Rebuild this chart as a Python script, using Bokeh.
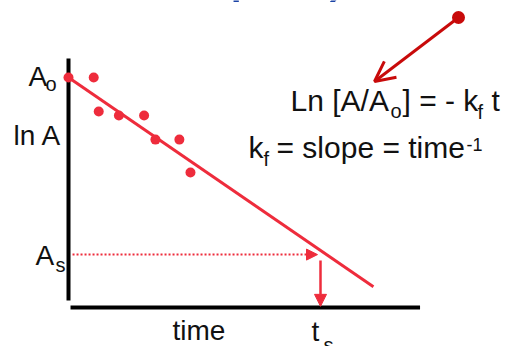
from bokeh.plotting import figure
from bokeh.models import Range1d, Arrow, NormalHead, OpenHead
from bokeh.core.properties import value
from bokeh.embed import file_html
from bokeh.resources import INLINE

# ---------------- data ----------------
obs_time = [0.0, 1.0, 1.2, 2.0, 3.0, 3.45, 4.4, 4.84]
obs_lnA = [10.0, 10.0, 8.52, 8.35, 8.35, 7.30, 7.30, 5.87]
fit_time = [0.0, 12.1]
fit_lnA = [10.0, 0.9]
lnA_o = 10.0          # A_o level
lnA_s = 2.3           # A_s level
t_s = 10.0            # time at which A_s is reached
time_axis = [0.08, 13.95]
lnA_axis = [0.3, 10.83]

# ---------------- layout constants ----------------
PX_T = 25.2   # pixels per time unit
PX_Y = 23.0   # pixels per lnA unit
W, H = 508, 346
X0, Y0 = 68, 307   # pixel position of the origin
BASE_FIX = 0.43    # baseline correction (fraction of font size)

FONT = value("Liberation Sans")
RED = "#ee2c3c"
DARK = "#c80a0a"
BLUE = "#1c44a6"
INK = "#111111"


def tx(px):
    return (px - X0) / PX_T


def ly(py):
    return (Y0 - py) / PX_Y


p = figure(width=W, height=H, output_backend="svg", toolbar_location=None,
           x_range=Range1d(tx(0), tx(W)), y_range=Range1d(ly(H), ly(0)),
           x_axis_location=None, y_axis_location=None, min_border=0,
           outline_line_color=None, background_fill_color="white",
           border_fill_color="white")
p.xgrid.visible = False
p.ygrid.visible = False

# axes lines
p.line(x=[0, 0], y=lnA_axis, line_color="black", line_width=4)
p.line(x=time_axis, y=[0, 0], line_color="black", line_width=4)

# fit line and observations
p.line(x=fit_time, y=fit_lnA, line_color=RED, line_width=3)
p.scatter(x=obs_time, y=obs_lnA, size=10, fill_color=RED, line_color=None)

# dotted arrow from A_s to the fit line, then down to t_s
p.add_layout(Arrow(end=NormalHead(size=11, fill_color=RED, line_color=RED, line_width=1),
                   x_start=0.16, y_start=lnA_s, x_end=t_s - 3 / PX_T, y_end=lnA_s,
                   line_color=RED, line_width=2, line_dash="2 2"))
p.add_layout(Arrow(end=NormalHead(size=12, fill_color=RED, line_color=RED, line_width=1),
                   x_start=t_s, y_start=lnA_s - 6 / PX_Y, x_end=t_s, y_end=0.05,
                   line_color=RED, line_width=2.5))

# dark red pointer to the equation
p.add_layout(Arrow(end=OpenHead(size=20, line_color=DARK, line_width=3),
                   x_start=tx(458), y_start=ly(17), x_end=tx(374), y_end=ly(81),
                   line_color=DARK, line_width=3))
p.scatter(x=[tx(458)], y=[ly(17)], size=13, fill_color=DARK, line_color=None)


def txt(s, x, y, size=30, color=INK, align="left"):
    # y is the wanted alphabetic baseline (data units)
    yb = y + BASE_FIX * size / PX_Y
    p.text(x=[x], y=[yb], text=[s], text_font=FONT, text_font_size=f"{size}px",
           text_color=color, text_align=align, text_baseline="alphabetic")


# axis labels
txt("A", -40 / PX_T, lnA_o - 11 / PX_Y, 28)
txt("o", -23 / PX_T, lnA_o - 15 / PX_Y, 20)
txt("ln A", tx(13), ly(147), 28)
txt("A", -33 / PX_T, lnA_s - 13 / PX_Y, 28)
txt("s", -13 / PX_T, lnA_s - 19 / PX_Y, 20)
txt("time", tx(172), -35 / PX_Y, 28)
txt("t", t_s - 9 / PX_T, -36 / PX_Y, 28)
txt("s", t_s + 3 / PX_T, -46 / PX_Y, 20)

# equation 1
txt("Ln [A/A", tx(290), ly(113))
txt("o", tx(390), ly(119), 20)
txt("] = - k", tx(402), ly(113))
txt("f", tx(477), ly(120), 20)
txt("t", tx(491), ly(113))

# equation 2
txt("k", tx(248), ly(160))
txt("f", tx(263), ly(167), 20)
txt("= slope = time", tx(276), ly(160))
txt("-1", tx(466), ly(152), 18)

# cut-off title fragments at the very top
txt("p", tx(229), ly(-5.5), 60, BLUE)
txt(")", tx(329), ly(-5.5), 60, BLUE)

open("out.html", "w").write(file_html(p, INLINE))
